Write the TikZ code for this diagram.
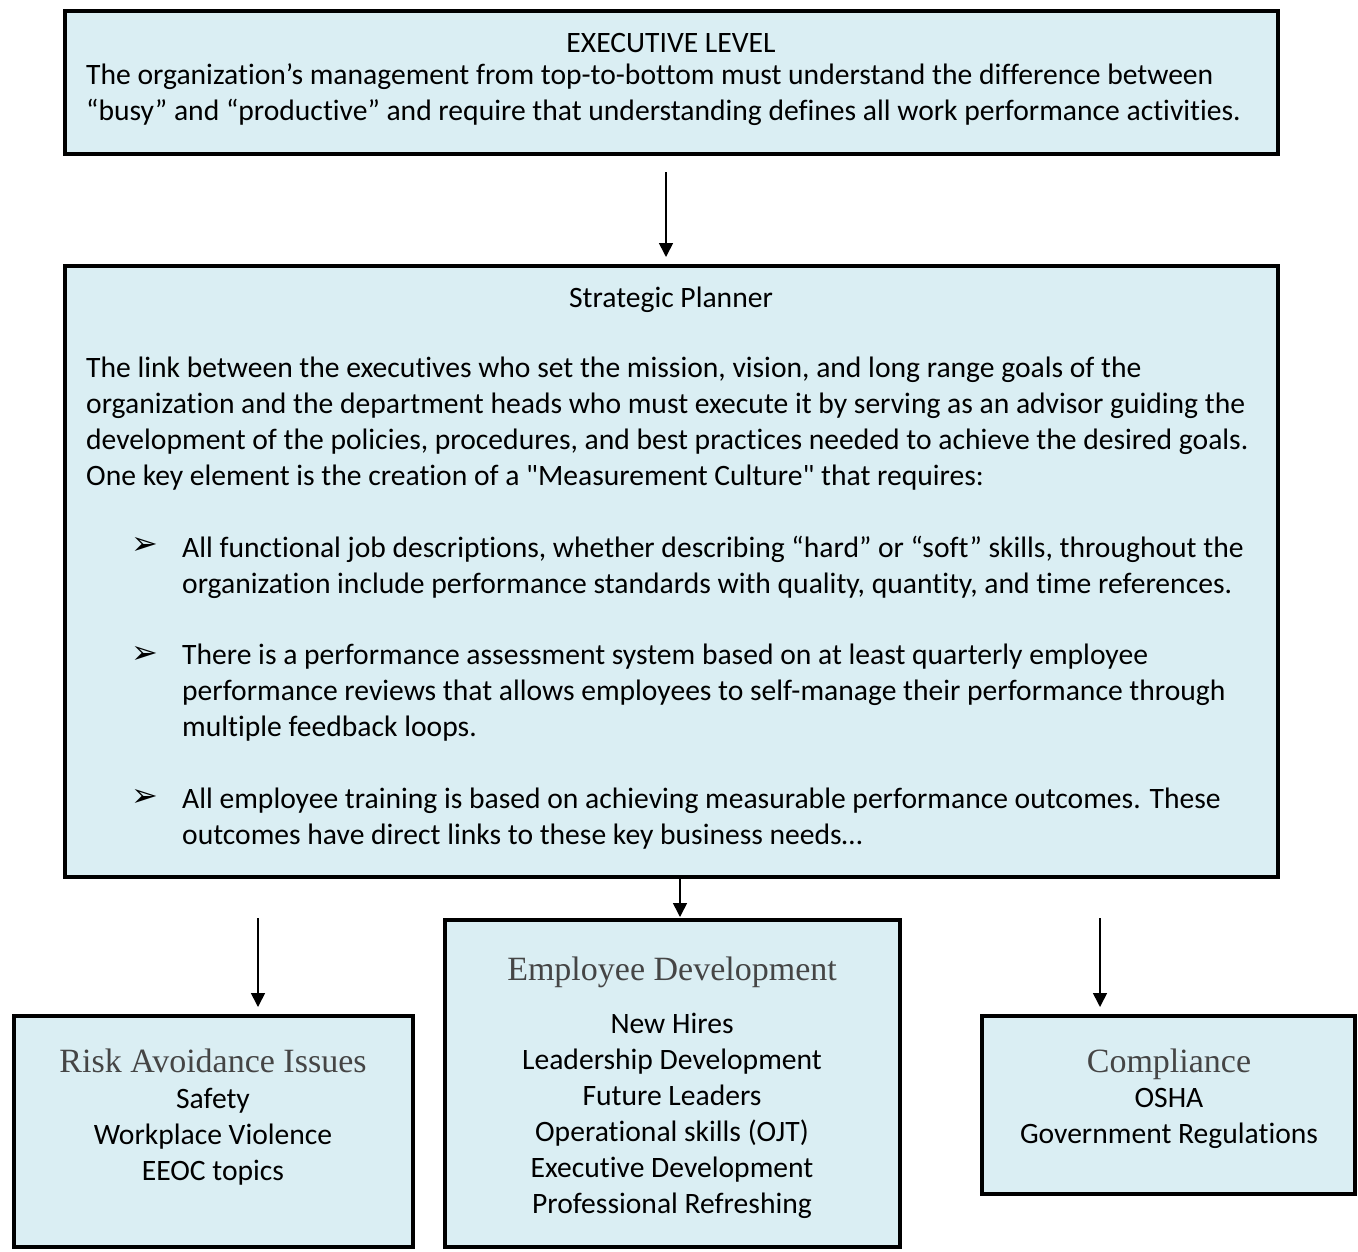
\documentclass[tikz,border=0pt]{standalone}
\usepackage{fontspec}
\setmainfont{Carlito}[Ligatures={TeXOff,CommonOff}]
\newfontfamily\headfont{Liberation Serif}
\newfontfamily\dingfont{DejaVu Sans}
\usetikzlibrary{arrows.meta}
\definecolor{boxfill}{HTML}{DAEEF3}
\definecolor{headgray}{HTML}{454545}
\begin{document}
\begin{tikzpicture}[x=1pt,y=-1pt,
  box/.style={draw=black, line width=4pt, fill=boxfill, inner sep=0pt},
  arr/.style={line width=1.6pt, -{Triangle[length=14pt,width=14pt]}, shorten >=7pt},
  body/.style={inner sep=0pt, font=\fontsize{29.6}{36}\selectfont, align=left},
  ctext/.style={inner sep=0pt, font=\fontsize{29.6}{36}\selectfont, align=center},
  head/.style={inner sep=0pt, font=\headfont\fontsize{34}{36}\selectfont, text=headgray},
  bul/.style={inner sep=0pt, font=\dingfont\fontsize{32}{34}\selectfont}
]
\useasboundingbox (0,0) rectangle (1358,1251);

% boxes
\node[box, minimum width=1213pt, minimum height=143pt] (exec) at (671.5,82) {};
\node[box, minimum width=1213pt, minimum height=611pt] (strat) at (671.5,571.5) {};
\node[box, minimum width=399pt, minimum height=231pt] (risk) at (213.5,1131.5) {};
\node[box, minimum width=455pt, minimum height=327pt] (emp) at (672.5,1083.5) {};
\node[box, minimum width=373pt, minimum height=178pt] (comp) at (1168.5,1105) {};

% executive text
\node[ctext, anchor=base] (exectitle) at (671,52) {EXECUTIVE LEVEL};
\node[body, anchor=north west] (exectext) at (86,63) {The organization’s management from top-to-bottom must understand the difference between\\“busy” and “productive” and require that understanding defines all work performance activities.};

% strategic text
\node[ctext, anchor=base] (strattitle) at (671,307) {Strategic Planner};
\node[body, anchor=north west] (stratpara) at (86,357) {The link between the executives who set the mission, vision, and long range goals of the\\organization and the department heads who must execute it by serving as an advisor guiding the\\development of the policies, procedures, and best practices needed to achieve the desired goals.\\One key element is the creation of a "Measurement Culture" that requires:};

\node[bul] (b1) at (145,546) {➢};
\node[body, anchor=north west] (b1t) at (182,536) {All functional job descriptions, whether describing “hard” or “soft” skills, throughout the\\organization include performance standards with quality, quantity, and time references.};
\node[bul] (b2) at (145,655) {➢};
\node[body, anchor=north west] (b2t) at (182,644) {There is a performance assessment system based on at least quarterly employee\\performance reviews that allows employees to self-manage their performance through\\multiple feedback loops.};
\node[bul] (b3) at (145,798) {➢};
\node[body, anchor=north west] (b3t) at (182,788) {All employee training is based on achieving measurable performance outcomes. These\\outcomes have direct links to these key business needs…};

% bottom texts
\node[head, anchor=base] (riskhead) at (213,1072) {Risk Avoidance Issues};
\node[ctext, anchor=north] (risktext) at (213,1088) {Safety\\Workplace Violence\\EEOC topics};

\node[head, anchor=base] (emphead) at (672,980) {Employee Development};
\node[ctext, anchor=north] (emptext) at (672,1013) {New Hires\\Leadership Development\\Future Leaders\\Operational skills (OJT)\\Executive Development\\Professional Refreshing};

\node[head, anchor=base] (comphead) at (1169,1072) {Compliance};
\node[ctext, anchor=north] (comptext) at (1169,1088) {OSHA\\Government Regulations};

% connectors
\coordinate (a1) at (666,172);
\draw[arr] (a1) -- (a1 |- strat.north);
\coordinate (a2) at (680,877);
\draw[arr, shorten >=1pt] (strat.south -| a2) -- (a2 |- emp.north);
\coordinate (a3) at (258,918);
\draw[arr] (a3) -- (a3 |- risk.north);
\coordinate (a4) at (1100,918);
\draw[arr] (a4) -- (a4 |- comp.north);
\end{tikzpicture}
\end{document}
